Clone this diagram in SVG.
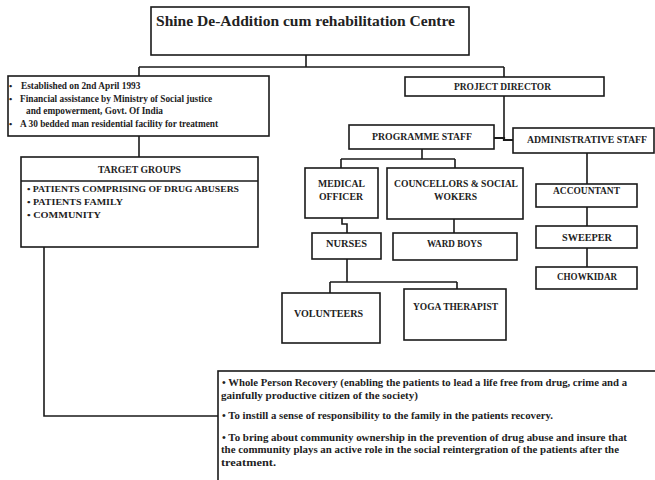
<svg xmlns="http://www.w3.org/2000/svg" width="655" height="480" viewBox="0 0 655 480">
<style>
.box{fill:#fff;stroke:#1a1a1a;stroke-width:1.6}
.ln{fill:none;stroke:#1a1a1a;stroke-width:1.6}
text{font-family:'Liberation Serif','Times New Roman',Times,serif;font-weight:bold;fill:#222}
.c{text-anchor:middle;font-size:9.5px}
.s{font-size:9px}
.i{font-size:9.3px}
.b{font-size:9.5px}
</style>
<rect width="655" height="480" fill="#fff"/>
<g id="connectors">
<path class="ln" d="M306,55 V67 M139,67 H504 M139,67 V76 M504,67 V77"/>
<path class="ln" d="M139,136 V157"/>
<path class="ln" d="M44,247 V416 H218"/>
<path class="ln" d="M504,96 V139" />
<path class="ln" style="stroke-width:2.2" d="M494,138 H504 V140 H513"/>
<path class="ln" d="M422,149 V159 M341,159 H455 M341,159 V168 M455,159 V168"/>
<path class="ln" d="M342,218 V224 H347 V233"/>
<path class="ln" d="M454,219 V233"/>
<path class="ln" d="M347,259 V282 M330,282 H457 M330,282 V293 M457,282 V289"/>
<path class="ln" d="M587,153 V184 M587,207 V226 M587,248 V267"/>
</g>
<g id="title">
<rect class="box" x="151" y="7" width="318" height="48"/>
<text x="156" y="26" font-size="15" textLength="299" lengthAdjust="spacingAndGlyphs">Shine De-Addition cum rehabilitation Centre</text>
</g>
<g id="info">
<rect class="box" x="8" y="76" width="261" height="60"/>
<text class="s" x="9" y="89">•</text>
<text class="i" x="21" y="89">Established on 2nd April 1993</text>
<text class="s" x="9" y="102">•</text>
<text class="i" x="20" y="102">Financial assistance by Ministry of Social justice</text>
<text class="i" x="26" y="114">and empowerment, Govt. Of India</text>
<text class="s" x="9" y="127">•</text>
<text class="i" x="20" y="127">A 30 bedded man residential facility for  treatment</text>
</g>
<g id="target-groups">
<rect class="box" x="21" y="157" width="237" height="90"/>
<line class="ln" x1="21" y1="181" x2="258" y2="181"/>
<text class="c" x="139.5" y="173" textLength="83" lengthAdjust="spacingAndGlyphs">TARGET GROUPS</text>
<text class="s" x="27" y="192" textLength="212" lengthAdjust="spacingAndGlyphs">• PATIENTS COMPRISING OF DRUG ABUSERS</text>
<text class="s" x="27" y="205" textLength="96" lengthAdjust="spacingAndGlyphs">• PATIENTS FAMILY</text>
<text class="s" x="27" y="218" textLength="74" lengthAdjust="spacingAndGlyphs">•  COMMUNITY</text>
</g>
<g id="project-director">
<rect class="box" x="405" y="77" width="199" height="19"/>
<text class="c" x="502.5" y="90" textLength="97" lengthAdjust="spacingAndGlyphs">PROJECT DIRECTOR</text>
</g>
<g id="programme-staff">
<rect class="box" x="349" y="125" width="145" height="24"/>
<text class="c" x="422" y="140" textLength="100" lengthAdjust="spacingAndGlyphs">PROGRAMME STAFF</text>
</g>
<g id="administrative-staff">
<rect class="box" x="513" y="128" width="141" height="25"/>
<text class="c" x="587" y="143" textLength="120" lengthAdjust="spacingAndGlyphs">ADMINISTRATIVE STAFF</text>
</g>
<g id="medical-officer">
<rect class="box" x="305" y="168" width="73" height="50"/>
<text class="c" x="341.5" y="187" textLength="47" lengthAdjust="spacingAndGlyphs">MEDICAL</text>
<text class="c" x="341" y="200" textLength="44" lengthAdjust="spacingAndGlyphs">OFFICER</text>
</g>
<g id="councellors">
<rect class="box" x="387" y="168" width="136" height="51"/>
<text class="c" x="456" y="187" textLength="124" lengthAdjust="spacingAndGlyphs">COUNCELLORS &amp; SOCIAL</text>
<text class="c" x="455.5" y="200" textLength="43" lengthAdjust="spacingAndGlyphs">WOKERS</text>
</g>
<g id="nurses">
<rect class="box" x="312" y="233" width="69" height="26"/>
<text class="c" x="346.5" y="247" textLength="41" lengthAdjust="spacingAndGlyphs">NURSES</text>
</g>
<g id="ward-boys">
<rect class="box" x="393" y="233" width="124" height="27"/>
<text class="c" x="454.5" y="247" textLength="55" lengthAdjust="spacingAndGlyphs">WARD BOYS</text>
</g>
<g id="volunteers">
<rect class="box" x="282" y="293" width="98" height="50"/>
<text class="c" x="328.5" y="317" textLength="69" lengthAdjust="spacingAndGlyphs">VOLUNTEERS</text>
</g>
<g id="yoga-therapist">
<rect class="box" x="404" y="289" width="102" height="51"/>
<text class="c" x="455.5" y="310" textLength="85" lengthAdjust="spacingAndGlyphs">YOGA THERAPIST</text>
</g>
<g id="accountant">
<rect class="box" x="536" y="184" width="101" height="23"/>
<text class="c" x="586.5" y="194" textLength="67" lengthAdjust="spacingAndGlyphs">ACCOUNTANT</text>
</g>
<g id="sweeper">
<rect class="box" x="536" y="226" width="101" height="22"/>
<text class="c" x="587" y="241" textLength="50" lengthAdjust="spacingAndGlyphs">SWEEPER</text>
</g>
<g id="chowkidar">
<rect class="box" x="536" y="267" width="101" height="22"/>
<text class="c" x="587" y="280" textLength="60" lengthAdjust="spacingAndGlyphs">CHOWKIDAR</text>
</g>
<g id="objectives">
<rect class="box" x="218" y="371" width="450" height="120"/>
<text class="b" x="222" y="386" textLength="405" lengthAdjust="spacingAndGlyphs">• Whole Person Recovery (enabling the patients to lead a life free from drug, crime and a</text>
<text class="b" x="221" y="399" textLength="197" lengthAdjust="spacingAndGlyphs">gainfully productive citizen of the society)</text>
<text class="b" x="222" y="419" textLength="331" lengthAdjust="spacingAndGlyphs">• To instill a sense of responsibility to the family in the patients recovery.</text>
<text class="b" x="222" y="441" textLength="405" lengthAdjust="spacingAndGlyphs">• To bring about community ownership in the prevention of drug abuse and insure that</text>
<text class="b" x="221" y="453" textLength="398" lengthAdjust="spacingAndGlyphs">the community plays an active role in the social reintergration of the patients after the</text>
<text class="b" x="221" y="466" textLength="55" lengthAdjust="spacingAndGlyphs">treatment.</text>
</g>
</svg>
